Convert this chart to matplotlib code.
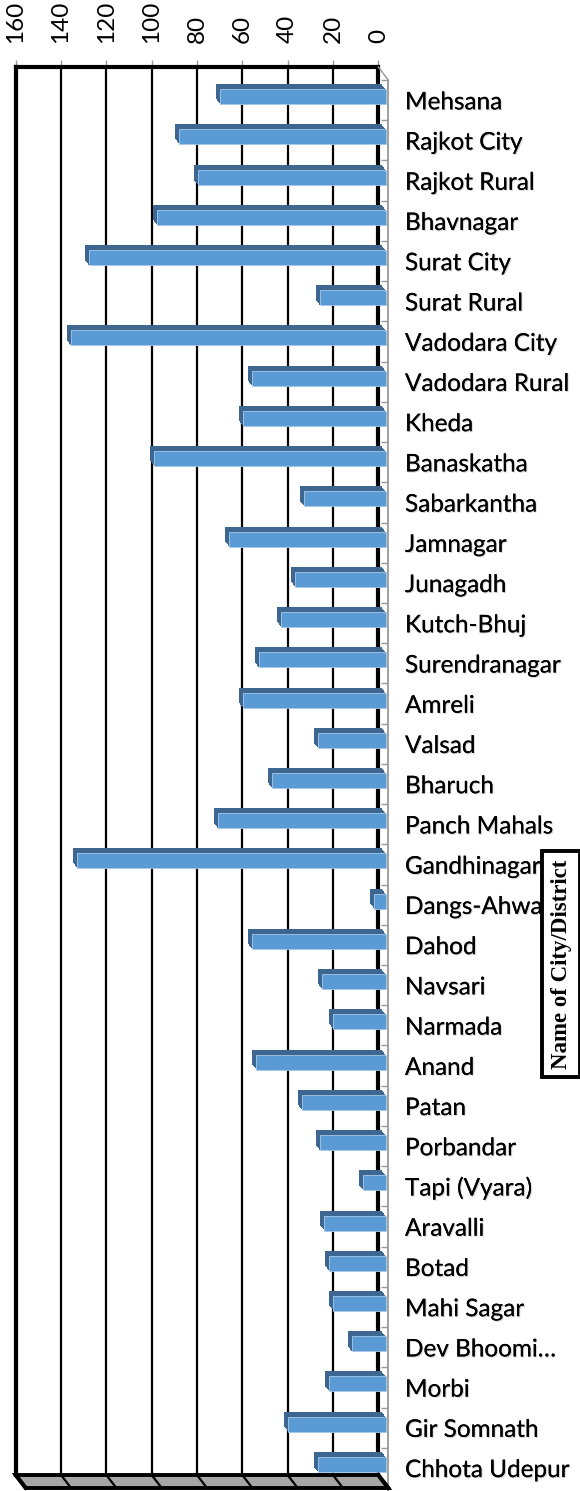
import matplotlib
matplotlib.use("Agg")
import matplotlib.pyplot as plt
import matplotlib.transforms as mtransforms
import matplotlib.patheffects as pe
from matplotlib.patches import Polygon
import numpy as np

# ---------------- data ----------------
districts = ["Mehsana", "Rajkot City", "Rajkot Rural", "Bhavnagar", "Surat City",
             "Surat Rural", "Vadodara City", "Vadodara Rural", "Kheda", "Banaskatha",
             "Sabarkantha", "Jamnagar", "Junagadh", "Kutch-Bhuj", "Surendranagar",
             "Amreli", "Valsad", "Bharuch", "Panch Mahals", "Gandhinagar",
             "Dangs-Ahwa", "Dahod", "Navsari", "Narmada", "Anand", "Patan",
             "Porbandar", "Tapi (Vyara)", "Aravalli", "Botad", "Mahi Sagar",
             "Dev Bhoomi\u2026", "Morbi", "Gir Somnath", "Chhota Udepur"]
values = [73, 91, 83, 101, 131, 29, 139, 59, 63, 102,
          36, 69, 40, 46, 56, 63, 30, 50, 74, 136,
          5, 59, 28, 23, 57, 37, 29, 10, 27, 25,
          23, 15, 25, 43, 30]
x_ticks = [0, 20, 40, 60, 80, 100, 120, 140, 160]
axis_title = "Name of City/District"

# ---------------- layout ----------------
W, H, DPI = 580, 1491, 100
fig = plt.figure(figsize=(W / DPI, H / DPI), dpi=DPI)
L, R, T, B = 15.7, 378.3, 67.0, 1475.0
ax = fig.add_axes([L / W, 1 - B / H, (R - L) / W, (B - T) / H])
n = len(districts)
ax.set_xlim(160, 0)
ax.set_ylim(n - 0.5, -0.5)

LABEL_FONT = "Lato"
FS = 17.5


def off(dx, dy):
    """offset in pixels (dy positive = down)"""
    return ax.transData + mtransforms.ScaledTranslation(dx / DPI, -dy / DPI, fig.dpi_scale_trans)


# gridlines
for g in x_ticks[1:-1]:
    ax.axvline(g, color="black", lw=1.6, zorder=1)

for s in ["left", "right", "top"]:
    ax.spines[s].set_linewidth(3.0)
    ax.spines[s].set_color("black")
ax.spines["bottom"].set_visible(False)

ax.xaxis.set_ticks_position("top")
ax.set_xticks(x_ticks)
ax.set_xticklabels([str(v) for v in x_ticks], rotation=90, fontfamily=LABEL_FONT,
                   fontsize=FS)
ax.tick_params(axis="x", top=True, bottom=False, length=5, width=1, color="#999999",
               pad=12)
ax.set_yticks([])

# ---------------- 3D-ish bars ----------------
ypos = np.arange(n)
bh = 0.373
dark = "#3d6791"
front = "#5b9bd5"
back_dx, back_dy = 3.3, 4.5
front_dx, front_dy = 7.3, 9.5
steps = 10
for k in range(steps):
    t = k / steps
    dx = back_dx + (front_dx - back_dx) * t
    dy = back_dy + (front_dy - back_dy) * t
    ax.barh(ypos, values, height=bh, color=dark, edgecolor="none",
            transform=off(dx, dy), clip_on=False, zorder=3 + k * 0.01)
ax.barh(ypos, values, height=bh, color=front, edgecolor="#a9c8ea", linewidth=0.6,
        transform=off(front_dx, front_dy), clip_on=False, zorder=3.5)

# ---------------- floor & 3D frame ----------------
fig.canvas.draw()
FDX, FDY = 10.0, 13.0
tr = ax.transData


def disp(x, y, dx=0.0, dy=0.0):
    px, py = tr.transform((x, y))
    return (px + dx, py - dy)


ybot = n - 0.5
floor = [disp(160, ybot), disp(0, ybot), disp(0, ybot, FDX, FDY), disp(160, ybot, FDX, FDY)]
fig.patches.append(Polygon(floor, closed=True, facecolor="#a6a6a6", edgecolor="black",
                           lw=2.8, transform=None, zorder=2))
for g in x_ticks:
    p0 = disp(g, ybot)
    p1 = disp(g, ybot, FDX, FDY)
    lw = 2.8 if g in (0, 160) else 1.6
    fig.lines.append(plt.Line2D([p0[0], p1[0]], [p0[1], p1[1]], color="black", lw=lw,
                                transform=None, zorder=3))

# top-right diagonal and front-plane category axis
p0 = disp(0, -0.5)
p1 = disp(0, -0.5, FDX, FDY)
fig.lines.append(plt.Line2D([p0[0], p1[0]], [p0[1], p1[1]], color="#999999", lw=1.0,
                            transform=None, zorder=3))
ax.plot([0, 0], [-0.5, n - 0.5 + 0.15], color="#999999", lw=1.3,
        transform=off(FDX, FDY), clip_on=False, zorder=2)
bounds = np.arange(n + 1) - 0.5
ax.plot(np.zeros(n + 1), bounds, linestyle="none", marker=0, markersize=5,
        markeredgewidth=1.0, color="#999999", transform=off(FDX, FDY), clip_on=False,
        zorder=2)

# category labels
shadow = [pe.withSimplePatchShadow(offset=(0.8, -0.8), shadow_rgbFace="#888888", alpha=0.35),
          pe.Normal()]
for i, name in enumerate(districts):
    ax.text(0, i, name, transform=off(FDX + 16.7, FDY + 9.2), ha="left", va="baseline",
            fontfamily=LABEL_FONT, fontsize=FS, color="black", clip_on=False,
            path_effects=shadow)

# axis title box
fig.text(561 / W, 1 - 964 / H, axis_title, rotation=90, ha="center", va="center",
         fontfamily="Liberation Serif", fontweight="bold", fontsize=16.5,
         bbox=dict(boxstyle="square,pad=0.35", facecolor="white", edgecolor="black",
                   linewidth=2.8))

fig.savefig("out.png", dpi=DPI)
